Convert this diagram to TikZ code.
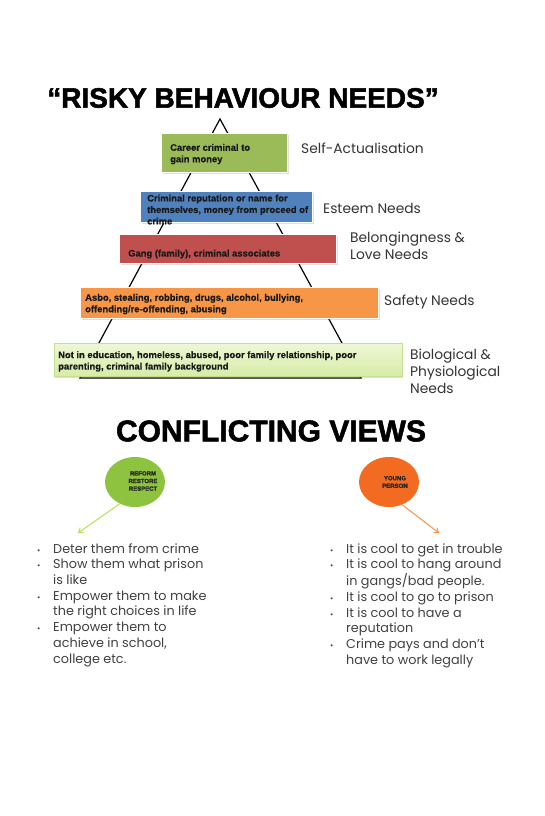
\documentclass[tikz,border=0pt]{standalone}
\usepackage{fontspec}
\setmainfont{Liberation Sans}
\newfontfamily\gothic{Poppins}
\newfontfamily\boxfont[BoldFeatures={FakeBold=0.6}]{Liberation Sans}
\newfontfamily\heavy[BoldFeatures={FakeBold=1.8}]{Liberation Sans}
\usetikzlibrary{shapes.geometric,arrows.meta,shadows}
\definecolor{gbox}{HTML}{9BBB59}
\definecolor{bbox}{HTML}{4F81BD}
\definecolor{rbox}{HTML}{C0504D}
\definecolor{obox}{HTML}{F79646}
\definecolor{lgtop}{HTML}{EDF7D6}
\definecolor{lgbot}{HTML}{D6ECA6}
\definecolor{lgdraw}{HTML}{C4E08E}
\definecolor{gell}{HTML}{8DC33F}
\definecolor{oell}{HTML}{F26B21}
\definecolor{garrow}{HTML}{B5E05A}
\definecolor{oarrow}{HTML}{F7944A}
\definecolor{labelgray}{HTML}{333333}
\definecolor{listgray}{HTML}{404040}
\tikzset{
  levelbox/.style={rectangle, draw=white, line width=1.2pt, inner sep=0pt, anchor=north west,
    drop shadow={shadow xshift=1pt, shadow yshift=-1.5pt, opacity=0.25}},
  boxtext/.style={anchor=west, align=left, inner sep=0pt, text=black!90,
    font=\boxfont\bfseries\fontsize{9.4}{11.5}\selectfont},
  levellabel/.style={anchor=west, align=left, inner sep=0pt, text=labelgray,
    font=\gothic\fontsize{13.8}{17}\selectfont},
  bigtitle/.style={inner sep=0pt},
  listnode/.style={anchor=north west, inner sep=0pt, text=listgray,
    font=\gothic\fontsize{12.8}{15.7}\selectfont},
  ellnode/.style={ellipse, inner sep=0pt, minimum width=60pt, minimum height=50pt},
  elltext/.style={align=center, inner sep=0pt, font=\heavy\bfseries\fontsize{6}{7.6}\selectfont, text=black!85},
}
\begin{document}
\begin{tikzpicture}[x=1pt,y=-1pt]
\useasboundingbox (0,0) rectangle (545,816);
% title
\node[bigtitle, font=\heavy\bfseries\fontsize{28}{30}\selectfont] (title) at (243,98) {“RISKY BEHAVIOUR NEEDS”};
% pyramid outline
\coordinate (apex) at (220,119);
\coordinate (bl) at (80,378);
\coordinate (br) at (361,378);
\draw[line width=1.2pt] (bl) -- (apex) -- (br) -- cycle;
% level boxes
\node[levelbox, fill=gbox, minimum width=126pt, minimum height=39pt] (b1) at (161,133) {};
\node[levelbox, fill=bbox, minimum width=172pt, minimum height=31pt] (b2) at (140,191) {};
\node[levelbox, fill=rbox, minimum width=217pt, minimum height=29pt] (b3) at (119,234) {};
\node[levelbox, fill=obox, minimum width=298pt, minimum height=31pt] (b4) at (80,287) {};
\node[levelbox, top color=lgtop, bottom color=lgbot, draw=lgdraw, line width=0.8pt, minimum width=348pt, minimum height=33pt] (b5) at (54,343) {};
% box texts
\node[boxtext] (t1) at ([xshift=9pt,yshift=-1pt]b1.west) {Career criminal to\\gain money};
\node[boxtext] (t2) at ([xshift=7pt,yshift=-2.5pt]b2.west) {Criminal reputation or name for\\themselves, money from proceed of\\crime};
\node[boxtext] (t3) at ([xshift=9pt,yshift=-5pt]b3.west) {Gang (family), criminal associates};
\node[boxtext] (t4) at ([xshift=5pt,yshift=-1pt]b4.west) {Asbo, stealing, robbing, drugs, alcohol, bullying,\\offending/re-offending, abusing};
\node[boxtext] (t5) at ([xshift=4pt,yshift=-1.5pt]b5.west) {Not in education, homeless, abused, poor family relationship, poor\\parenting, criminal family background};
% level labels
\node[levellabel] (l1) at (301,148) {Self-Actualisation};
\node[levellabel] (l2) at (323,208) {Esteem Needs};
\node[levellabel] (l3) at (350,245.5) {Belongingness \&\\Love Needs};
\node[levellabel] (l4) at (384,302) {Safety Needs};
\node[levellabel] (l5) at (410,371) {Biological \&\\Physiological\\Needs};
% second title
\node[bigtitle, font=\heavy\bfseries\fontsize{30}{32}\selectfont] (title2) at (271,431) {CONFLICTING VIEWS};
% ellipses
\node[ellnode, fill=gell] (ge) at (135,482) {};
\node[elltext] (get) at (143,481) {REFORM\\RESTORE\\RESPECT};
\node[ellnode, fill=oell] (oe) at (389,482) {};
\node[elltext] (oet) at (395,482) {YOUNG\\PERSON};
% arrows
\coordinate (gend) at (78,533);
\coordinate (oend) at (439,533);
\draw[garrow, line width=1pt, -{Straight Barb[length=4pt,width=6pt]}] (ge.235) -- (gend);
\draw[oarrow, line width=1pt, -{Straight Barb[length=4pt,width=6pt]}] (oe.300) -- (oend);
% lists
\node[listnode] (leftlist) at (37,542) {\begin{tabular}{@{}p{15pt}@{\hspace{1pt}}l@{}}
\footnotesize•& Deter them from crime\\
\footnotesize•& Show them what prison\\
 & is like\\
\footnotesize•& Empower them to make\\
 & the right choices in life\\
\footnotesize•& Empower them to\\
 & achieve in school,\\
 & college etc.
\end{tabular}};
\node[listnode] (rightlist) at (330,542) {\begin{tabular}{@{}p{15pt}@{\hspace{1pt}}l@{}}
\footnotesize•& It is cool to get in trouble\\
\footnotesize•& It is cool to hang around\\
 & in gangs/bad people.\\
\footnotesize•& It is cool to go to prison\\
\footnotesize•& It is cool to have a\\
 & reputation\\
\footnotesize•& Crime pays and don’t\\
 & have to work legally
\end{tabular}};
\end{tikzpicture}
\end{document}
